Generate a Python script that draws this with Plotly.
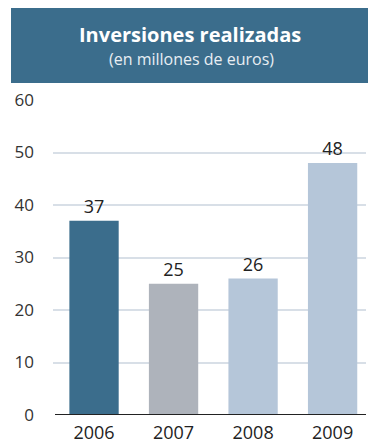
import plotly.graph_objects as go

# Annual investment, millions of euros
years = ["2006", "2007", "2008", "2009"]
investments = [37, 25, 26, 48]
bar_colors = ["#3b6d8c", "#aeb3bb", "#b5c6d9", "#b5c6d9"]
y_ticks = [0, 10, 20, 30, 40, 50, 60]

title_text = "<b>Inversiones realizadas</b>"
subtitle_text = "(en millones de euros)"

FONT = "Open Sans, Lato, sans-serif"

fig = go.Figure(
    go.Bar(
        x=list(range(len(years))),
        y=investments,
        marker=dict(color=bar_colors, line=dict(width=0)),
        width=0.62,
        text=[str(v) for v in investments],
        textposition="outside",
        textfont=dict(family=FONT, size=18, color="#222222"),
        cliponaxis=False,
        hoverinfo="skip",
    )
)

W, H = 368, 444
L, R, T, B = 53, 2, 100, 29

fig.update_layout(
    width=W,
    height=H,
    margin=dict(l=L, r=R, t=T, b=B, autoexpand=False),
    paper_bgcolor="white",
    plot_bgcolor="white",
    showlegend=False,
    font=dict(family=FONT, color="#333333"),
)

fig.update_xaxes(
    range=[-0.516, 3.42],
    tickmode="array",
    tickvals=list(range(len(years))),
    ticktext=years,
    tickfont=dict(family=FONT, size=18, color="#222222"),
    showgrid=False,
    zeroline=False,
    showline=False,
    ticks="",
    ticklabelstandoff=5,
    automargin=False,
    fixedrange=True,
)

fig.update_yaxes(
    range=[0, 60],
    tickmode="array",
    tickvals=y_ticks,
    tickfont=dict(family=FONT, size=17, color="#333333"),
    showgrid=True,
    gridcolor="#d8dfe7",
    gridwidth=1.5,
    zeroline=False,
    showline=False,
    ticks="",
    ticklabelstandoff=18,
    automargin=False,
    fixedrange=True,
)

plot_w = W - L - R
plot_h = H - T - B


def px_x(p):
    return (p - L) / plot_w


def px_y(p):
    return (H - B - p) / plot_h


# Header banner
fig.add_shape(
    type="rect",
    xref="paper", yref="paper",
    x0=px_x(11), x1=px_x(368),
    y0=px_y(83), y1=px_y(8),
    fillcolor="#3b6d8c",
    line=dict(width=0),
    layer="above",
)

# Baseline at zero
fig.add_shape(
    type="line",
    xref="paper", yref="y",
    x0=px_x(55), x1=px_x(366),
    y0=0, y1=0,
    line=dict(color="#222222", width=2),
    layer="above",
)

fig.add_annotation(
    xref="paper", yref="paper",
    x=px_x(190), y=px_y(34),
    text=title_text,
    showarrow=False,
    xanchor="center", yanchor="middle",
    font=dict(family=FONT, size=20, color="white"),
)
fig.add_annotation(
    xref="paper", yref="paper",
    x=px_x(191), y=px_y(59),
    text=subtitle_text,
    showarrow=False,
    xanchor="center", yanchor="middle",
    font=dict(family=FONT, size=16, color="#e8eef3"),
)

fig.write_html("out.html")
